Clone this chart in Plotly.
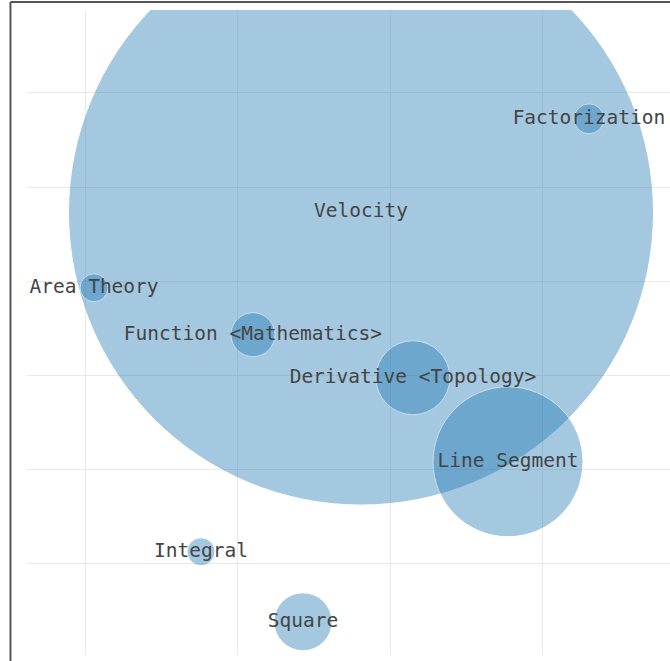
import plotly.graph_objects as go

# topic bubbles: position and weight (diameter in px)
topics = ["Velocity", "Factorization", "Area Theory", "Function <Mathematics>",
          "Derivative <Topology>", "Line Segment", "Integral", "Square"]
x_vals = [2.808, 4.301, 1.059, 2.100, 3.148, 3.771, 1.760, 2.428]
y_vals = [4.730, 5.725, 3.932, 3.434, 2.977, 2.085, 1.130, 0.387]
weights = [585, 30, 28, 44, 74, 150, 28, 58]

fig = go.Figure(go.Scatter(
    x=x_vals, y=y_vals, text=topics,
    mode="markers+text",
    textposition="middle center",
    textfont=dict(family="DejaVu Sans Mono", size=19.5, color="#444"),
    marker=dict(size=weights, sizemode="diameter", sizeref=1,
                color="#1f77b4", opacity=0.4,
                line=dict(color="white", width=1)),
    hoverinfo="text",
    cliponaxis=True,
))

fig.update_xaxes(range=[0.62, 4.832], dtick=1, tick0=1, showticklabels=False,
                 showgrid=True, gridcolor="#e9e9e9", zeroline=False, showline=False)
fig.update_yaxes(range=[0.034, 6.88], dtick=1, tick0=1, showticklabels=False,
                 showgrid=True, gridcolor="#e9e9e9", zeroline=False, showline=False)

# frame lines at the left and top, outside the plot area
fig.add_shape(type="line", xref="paper", yref="paper", x0=-0.0257, x1=-0.0257,
              y0=-0.02, y1=1.0125, line=dict(color="#555", width=2))
fig.add_shape(type="line", xref="paper", yref="paper", x0=-0.0257, x1=1.0,
              y0=1.0125, y1=1.0125, line=dict(color="#555", width=2))

fig.update_layout(width=670, height=661, showlegend=False,
                  margin=dict(l=27, r=0, t=10, b=6),
                  plot_bgcolor="white", paper_bgcolor="white")

fig.write_html("out.html", config={"displayModeBar": False},
               post_script="document.body.style.margin='0';")
